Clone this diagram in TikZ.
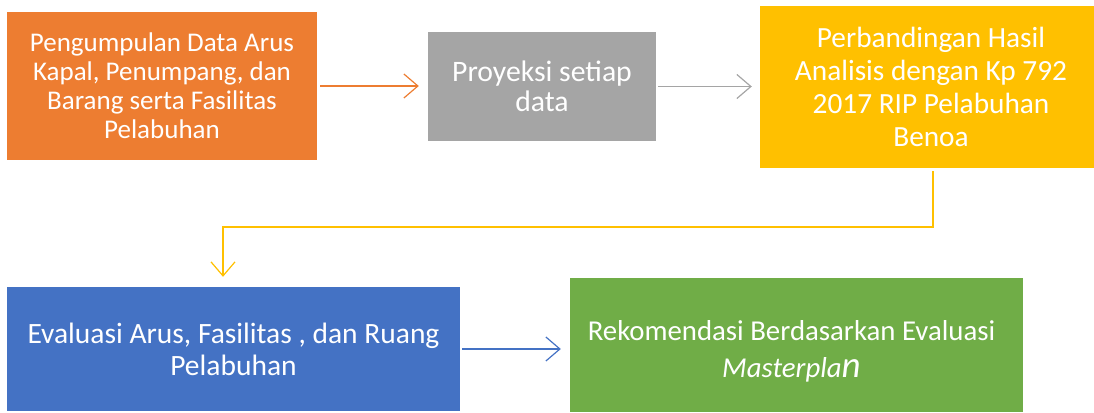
\documentclass[tikz,border=0pt]{standalone}
\usepackage{fontspec}
\setmainfont{Carlito}
\usetikzlibrary{arrows.meta}
\definecolor{cOrange}{HTML}{ED7D31}
\definecolor{cGray}{HTML}{A5A5A5}
\definecolor{cGold}{HTML}{FFC000}
\definecolor{cBlue}{HTML}{4472C4}
\definecolor{cGreen}{HTML}{70AD47}
\begin{document}
\begin{tikzpicture}[x=1pt,y=-1pt,
  box/.style={draw=none, inner sep=0pt, align=center, text=white,
    font=\fontsize{27}{29}\selectfont},
  conn/.style={line width=1.2pt, -{Straight Barb[length=14pt,width=24pt,line width=1.2pt]}}]
\useasboundingbox (0,0) rectangle (1094,412);
\node[box, fill=cOrange, minimum width=310pt, minimum height=148pt] (orange) at (162,86)
  {Pengumpulan Data Arus\\Kapal, Penumpang, dan\\Barang serta Fasilitas\\Pelabuhan};
\node[box, fill=cGray, minimum width=228pt, minimum height=109pt,
  font=\fontsize{29.7}{30}\selectfont] (gray) at (542,86.5)
  {Proyeksi setiap\\data};
\node[box, fill=cGold, minimum width=334pt, minimum height=162pt,
  font=\fontsize{29.3}{33}\selectfont] (gold) at (927,87)
  {\hspace*{8pt}Perbandingan Hasil\\\hspace*{8pt}Analisis dengan Kp 792\\\hspace*{8pt}2017 RIP Pelabuhan\\\hspace*{8pt}Benoa};
\node[box, fill=cBlue, minimum width=453pt, minimum height=124pt,
  font=\fontsize{29.5}{32}\selectfont] (blue) at (233.5,349)
  {Evaluasi Arus, Fasilitas , dan Ruang\\Pelabuhan};
\node[box, fill=cGreen, minimum width=453pt, minimum height=134pt,
  font=\fontsize{28.8}{37}\selectfont] (green) at (796.5,345)
  {\rule{0pt}{32pt}Rekomendasi Berdasarkan Evaluasi\hspace*{10pt}\\\textit{Masterpla{\fontsize{37}{37}\selectfont n}}\hspace*{10pt}};
\draw[conn, draw=cOrange, shorten <=3pt, shorten >=9pt] (orange.east) -- (gray.west |- orange.east);
\draw[conn, draw=cGray, shorten <=2pt, shorten >=8pt] (gray.east) -- (gold.west |- gray.east);
\coordinate (e1) at (933,227);
\coordinate (e2) at (223,227);
\draw[conn, draw=cGold, shorten <=3pt, shorten >=10pt] (gold.south -| e1) -- (e1) -- (e2) -- (e2 |- blue.north);
\draw[conn, draw=cBlue, shorten <=2pt, shorten >=9pt] (blue.east) -- (green.west |- blue.east);
\end{tikzpicture}
\end{document}
